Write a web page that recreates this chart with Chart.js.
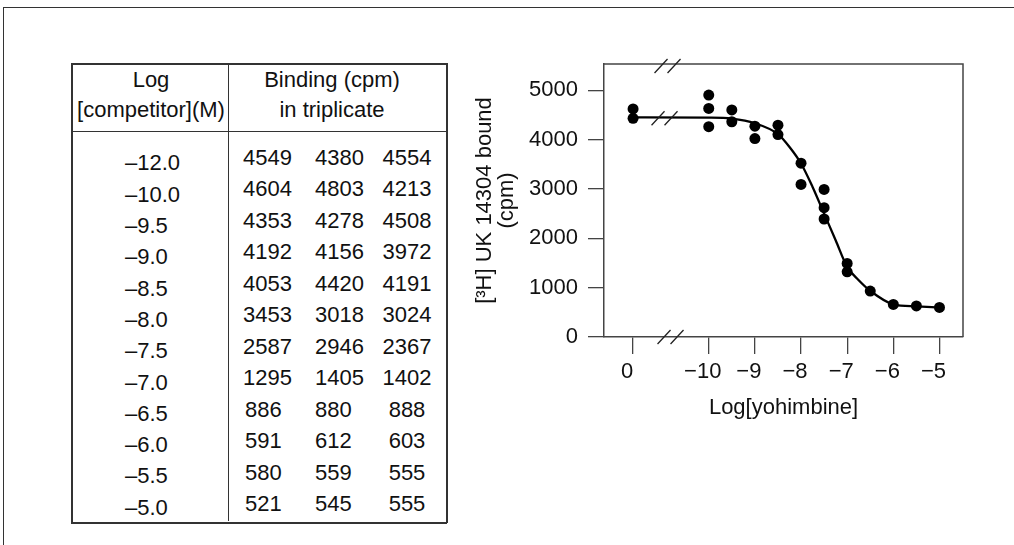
<!DOCTYPE html>
<html>
<head>
<meta charset="utf-8">
<script src="https://cdn.jsdelivr.net/npm/chart.js@4.4.0/dist/chart.umd.min.js"></script>
<style>
  body { margin: 0; width: 1014px; height: 545px; overflow: hidden; position: relative; background: #fff;
         font-family: 'Liberation Sans', Arial, sans-serif; color: #111; }
  #frame { position: absolute; left: 3px; top: 7px; width: 1100px; height: 600px;
           border-top: 1.3px solid #333; border-left: 1.3px solid #333; }
  .ln { position: absolute; background: #333; }
  .t { position: absolute; font-size: 22px; line-height: 22px; white-space: nowrap; }
  #chart { position: absolute; left: 470px; top: 40px; }
</style>
</head>
<body>
<div id="frame"></div>
<div id="table"></div>
<canvas id="chart" width="510" height="400"></canvas>
<script>
// table values (log competitor concentration, triplicate binding in cpm)
const competitorLog = ['–12.0', '–10.0', '–9.5', '–9.0', '–8.5', '–8.0', '–7.5', '–7.0', '–6.5', '–6.0', '–5.5', '–5.0'];
const binding1 = [4549, 4604, 4353, 4192, 4053, 3453, 2587, 1295, 886, 591, 580, 521];
const binding2 = [4380, 4803, 4278, 4156, 4420, 3018, 2946, 1405, 880, 612, 559, 545];
const binding3 = [4554, 4213, 4508, 3972, 4191, 3024, 2367, 1402, 888, 603, 555, 555];

// plotted points (-12 is the "0" group left of the axis break)
const plotLog = [-12, -10, -9.5, -9, -8.5, -8, -7.5, -7, -6.5, -6, -5.5, -5];
const plotCpm = [
  [4620, 4430], [4900, 4630, 4260], [4600, 4360], [4270, 4020], [4290, 4100],
  [3520, 3090], [2990, 2620, 2390], [1490, 1320], [930], [660], [630], [600]
];

// fitted curve
const curveLog = [-12, -10, -9.5, -9, -8.5, -8.25, -8, -7.75, -7.5, -7.25, -7, -6.75, -6.5, -6, -5.5, -5];
const curveCpm = [4450, 4445, 4425, 4330, 4110, 3850, 3515, 3040, 2500, 1960, 1420, 1150, 935, 660, 620, 595];

const xTicks = [-12, -10, -9, -8, -7, -6, -5];
const xTickText = ['0', '−10', '−9', '−8', '−7', '−6', '−5'];
const yTicks = [0, 1000, 2000, 3000, 4000, 5000];

// ---- table ----
const tbl = document.getElementById('table');
function line(x, y, w, h) {
  const d = document.createElement('div');
  d.className = 'ln';
  d.style.cssText = `left:${x}px;top:${y}px;width:${w}px;height:${h}px`;
  tbl.appendChild(d);
}
function text(s, x, base, align) {
  const d = document.createElement('div');
  d.className = 't';
  d.textContent = s;
  const top = base - 18.6;
  if (align === 'center') {
    d.style.cssText = `left:${x - 100}px;top:${top}px;width:200px;text-align:center`;
  } else {
    d.style.cssText = `left:${x}px;top:${top}px`;
  }
  tbl.appendChild(d);
}
line(71, 63, 376, 1.5);
line(71, 522, 376, 1.5);
line(71, 63, 1.5, 460);
line(446, 63, 1.5, 460);
line(228, 63, 1.3, 458);
line(71, 131, 376, 1.3);

text('Log', 151, 88, 'center');
text('[competitor](M)', 151, 118, 'center');
text('Binding (cpm)', 332, 88, 'center');
text('in triplicate', 332, 118, 'center');

competitorLog.forEach((s, i) => {
  text(s, 125, 171 + 31.3 * i, 'left');
  const b = 165.5 + 31.5 * i;
  text(String(binding1[i]), binding1[i] >= 1000 ? 243 : 245, b, 'left');
  text(String(binding2[i]), 315, b, 'left');
  text(String(binding3[i]), 407, b, 'center');
});

// ---- chart ----
const ZERO_POS = -11.64;   // x position of the "0" group
const BREAK_POS = -10.85;  // x position of the break marks
const axisPos = v => (v === -12 ? ZERO_POS : v);

const points = [];
plotLog.forEach((x, i) => plotCpm[i].forEach(y => points.push({ x: axisPos(x), y: y })));
const curve = curveLog.map((x, i) => ({ x: axisPos(x), y: curveCpm[i] }));

Chart.defaults.font.family = "'Liberation Sans', Arial, sans-serif";
Chart.defaults.color = '#111';

const frameAndBreaks = {
  id: 'frameAndBreaks',
  afterDraw(chart) {
    const { ctx, chartArea: a, scales } = chart;
    ctx.save();
    ctx.strokeStyle = '#444';
    ctx.lineWidth = 1.5;
    ctx.beginPath();
    ctx.moveTo(a.left, a.top);
    ctx.lineTo(a.right, a.top);
    ctx.lineTo(a.right, a.bottom);
    ctx.stroke();

    const bx = scales.x.getPixelForValue(BREAK_POS);
    const slashes = (cx, cy) => {
      ctx.beginPath();
      [-6.5, 6.5].forEach(dx => {
        ctx.moveTo(cx + dx - 6.5, cy + 7);
        ctx.lineTo(cx + dx + 6.5, cy - 7);
      });
      ctx.stroke();
    };
    ctx.strokeStyle = '#222';
    ctx.lineWidth = 1.3;
    slashes(bx - 2, a.top + 2);
    slashes(bx - 5, scales.y.getPixelForValue(curveCpm[0]) + 1);
    slashes(bx + 1, a.bottom);
    ctx.restore();
  }
};

new Chart(document.getElementById('chart'), {
  type: 'scatter',
  data: {
    datasets: [{
      type: 'line',
      data: curve,
      borderColor: '#000',
      borderWidth: 2.3,
      pointRadius: 0,
      cubicInterpolationMode: 'monotone',
      fill: false
    }, {
      data: points,
      backgroundColor: '#000',
      borderWidth: 0,
      pointRadius: 5.5
    }]
  },
  options: {
    responsive: false,
    animation: false,
    layout: { padding: { left: 0, top: 24, right: 17, bottom: 0 } },
    plugins: { legend: { display: false }, tooltip: { enabled: false } },
    scales: {
      x: {
        type: 'linear',
        min: -12.27,
        max: -4.49,
        afterBuildTicks: s => { s.ticks = xTicks.map(v => ({ value: axisPos(v) })); },
        afterFit: s => { s.height = 103; },
        ticks: {
          callback: (v, i) => xTickText[i],
          font: { size: 22 },
          color: '#111',
          padding: 5,
          labelOffset: -6,
          maxRotation: 0,
          autoSkip: false
        },
        grid: { drawOnChartArea: false, tickLength: 17, color: '#444', lineWidth: 1.3 },
        border: { color: '#444', width: 1.5 },
        title: {
          display: true,
          text: 'Log[yohimbine]',
          font: { size: 22, lineHeight: 1 },
          color: '#111',
          padding: { top: 0, bottom: 21 }
        }
      },
      y: {
        min: 0,
        max: 5530,
        afterBuildTicks: s => { s.ticks = yTicks.map(v => ({ value: v })); },
        afterFit: s => { s.width = 134; },
        ticks: { font: { size: 22 }, color: '#111', padding: 10, callback: v => String(v) },
        grid: { drawOnChartArea: false, tickLength: 16, color: '#444', lineWidth: 1.3 },
        border: { color: '#444', width: 1.5 },
        title: {
          display: true,
          text: ['[³H] UK 14304 bound', '(cpm)'],
          font: { size: 22, lineHeight: 1 },
          color: '#111',
          padding: { top: 4, bottom: 0 }
        }
      }
    }
  },
  plugins: [frameAndBreaks]
});
</script>
</body>
</html>
